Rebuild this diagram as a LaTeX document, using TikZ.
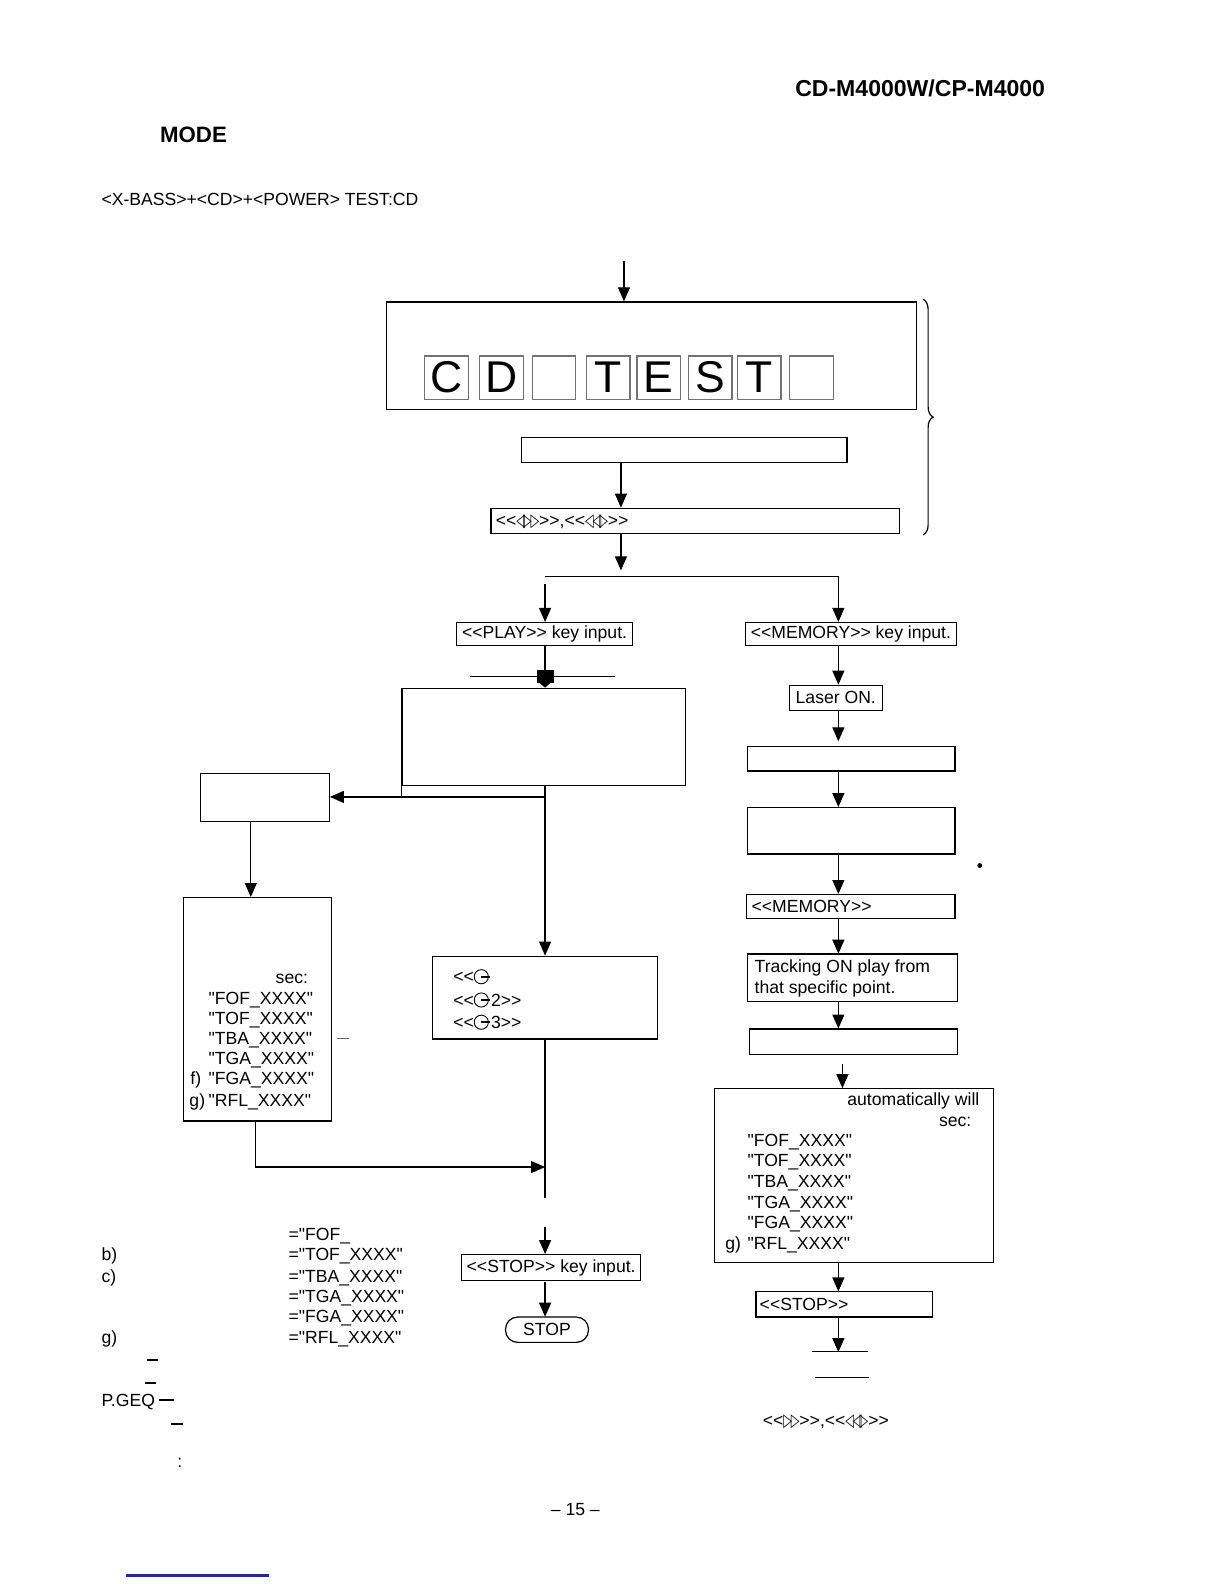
\documentclass[tikz,border=0pt]{standalone}
\usepackage{fontspec}
\usepackage{graphicx}
\setmainfont{Liberation Sans}[Ligatures=TeXOff]
\newfontfamily\dv{DejaVu Sans}
\usetikzlibrary{arrows.meta,decorations.pathreplacing}
\definecolor{pageblue}{RGB}{40,40,150}
\newcommand\trsym[1]{\scalebox{0.62}[1.0]{\dv\fontsize{9}{9}\selectfont #1}}
\newcommand\triA{<<\trsym{◁}\kern-1pt\trsym{▷}\kern-0.6pt\trsym{▷}>>,<<\trsym{◁}\kern-0.6pt\trsym{◁}\kern-1pt\trsym{▷}>>}
\newcommand\triB{<<\trsym{▷}\kern-0.6pt\trsym{▷}>>,<<\trsym{◁}\kern-0.6pt\trsym{◁}\kern-1pt\trsym{▷}>>}
\begin{document}
\begin{tikzpicture}[x=0.5pt,y=-0.5pt,scale=1.0111,transform shape,
  every node/.style={font=\fontsize{8.7}{10.4}\selectfont, inner sep=0pt},
  box/.style={draw, line width=0.6pt, anchor=north west, inner sep=0pt},
  cbox/.style={draw=black!55, line width=0.6pt, minimum width=21.5pt, minimum height=21.5pt, font=\fontsize{22}{22}\selectfont, inner sep=0pt},
  arr/.style={line width=0.6pt, -{Triangle[width=6pt,length=7pt]}},
  ln/.style={line width=0.6pt},
  txt/.style={anchor=base west},
  txe/.style={anchor=base east},
  shortbar/.style={line width=1pt},
  disc/.style={line width=0.45pt},
  discbar/.style={line width=0.9pt}]
\fill[white] (0,0) rectangle (1210.57,1566.61);
\useasboundingbox (0,0) rectangle (1210.57,1566.61);

% header
\node[txe,font=\bfseries\fontsize{11.4}{13}\selectfont] (hdr) at (1034,95) {CD-M4000W/CP-M4000};
\node[txt,font=\bfseries\fontsize{11}{13}\selectfont] (mode) at (158,141) {MODE};
\node[txt] (keys) at (100,203) {<X-BASS>+<CD>+<POWER> TEST:CD};

% column coordinates
\coordinate (top) at (617,258);
\coordinate (colA) at (614,0);
\coordinate (colL) at (539,0);
\coordinate (colR) at (829,0);
\coordinate (colE) at (248,0);
\coordinate (colG) at (253,0);

% display box
\node[box,minimum width=262pt,minimum height=53pt] (boxA) at (382,298) {};
\node[cbox] (c1) at (441.5,373.5) {C};
\node[cbox] (c2) at (496,373.5) {D};
\node[cbox] (c3) at (548,373.5) {};
\node[cbox] (c4) at (601.5,373.5) {T};
\node[cbox] (c5) at (651.5,373.5) {E};
\node[cbox] (c6) at (702.5,373.5) {S};
\node[cbox] (c7) at (751,373.5) {T};
\node[cbox] (c8) at (802.5,373.5) {};
\draw[arr] (top) -- (top |- boxA.north);

\node[box,minimum width=161pt,minimum height=12.5pt] (boxB) at (515,432) {};
\node[box,minimum width=202pt,minimum height=12.5pt] (boxC) at (485,502) {};
\node[txt] (tC) at (490,521) {\triA};
\draw[arr] (boxB.south -| colA) -- (boxC.north -| colA);
\draw[ln, decorate, decoration={brace, amplitude=5pt}] (913,296) -- (913,529);

% split
\coordinate (jA) at (614,564);
\coordinate (sL) at (539,570);
\coordinate (sR) at (829,570);
\draw[arr] (boxC.south -| colA) -- (jA);
\draw[ln] (sL) -- (sR);

% left branch
\node[box,minimum width=87pt,minimum height=11.5pt] (play) at (451,615) {<<PLAY>> key input.};
\draw[arr] ([yshift=-3.5pt]sL) -- (play.north -| colL);
\coordinate (blob) at (539,664);
\draw[ln] (play.south -| colL) -- (blob);
\fill (531,663) rectangle (548,675);
\fill (533,675) -- (545,675) -- (539,680) -- cycle;
\draw[ln] (465,669) -- (608,669);

\node[box,minimum width=140pt,minimum height=48pt] (boxD) at (397,680) {};
\draw[ln] (boxD.south west) -- ++(0,11);
\node[box,minimum width=63.5pt,minimum height=24pt] (boxE) at (198,764) {};
\node[box,minimum width=73pt,minimum height=110.5pt] (boxG) at (181,887) {};
\node[box,minimum width=111.5pt,minimum height=41pt] (boxF) at (427,945) {};
\coordinate (jD) at (539,788);
\draw[arr] (boxD.south -| colL) -- (boxF.north -| colL);
\draw[arr] (jD) -- (boxE.east |- jD);
\draw[arr] (boxE.south -| colE) -- (boxG.north -| colE);

\node[txe] (gsec) at (305,973) {sec:};
\node[txt] (g1) at (206,993) {"FOF\_XXXX"};
\node[txt] (g2) at (206,1013) {"TOF\_XXXX"};
\node[txt] (g3) at (206,1033) {"TBA\_XXXX"};
\node[txt] (g4) at (206,1053) {"TGA\_XXXX"};
\node[txt] (g5) at (206,1073) {"FGA\_XXXX"};
\node[txt] (g6) at (206,1094) {"RFL\_XXXX"};
\node[txt] (gf) at (188,1073) {f)};
\node[txt] (gg) at (187,1094) {g)};
\draw[line width=0.5pt, black!60] (333,1027) -- (345,1027);

% disc symbol lines
\node[txt] (f1) at (448,972) {<<\hspace{9pt}};
\node[txt] (f2) at (448,995) {<<\hspace{8.5pt}2>>};
\node[txt] (f3) at (448,1017) {<<\hspace{8.5pt}3>>};
\foreach \yy in {966,989,1011} {
  \draw[disc] (476,\yy) circle[radius=3.5pt];
  \draw[discbar] (476,\yy) -- (485,\yy);
}

\coordinate (jG) at (539,1154);
\coordinate (jF) at (539,1185);
\coordinate (jS) at (539,1213);
\draw[arr] (boxG.south -| colG) -- (colG |- jG) -- (jG);
\draw[ln] (boxF.south -| colL) -- (jF);

\node[box,minimum width=88.5pt,minimum height=13pt] (stopk) at (456,1240) {<<STOP>> key input.};
\draw[arr] (jS) -- (stopk.north -| colL);
\node[draw, line width=0.6pt, rounded corners=6pt, minimum width=41pt, minimum height=12.5pt, anchor=north] (stopt) at (541,1302) {STOP};
\draw[arr] (stopk.south -| colL) -- (stopt.north -| colL);

% left bottom notes
\node[txt] (n1) at (285,1227) {="FOF\_};
\node[txt] (n2) at (285,1247) {="TOF\_XXXX"};
\node[txt] (n3) at (285,1268) {="TBA\_XXXX"};
\node[txt] (n4) at (285,1288) {="TGA\_XXXX"};
\node[txt] (n5) at (285,1308) {="FGA\_XXXX"};
\node[txt] (n6) at (285,1329) {="RFL\_XXXX"};
\node[txt] (lb) at (100,1247) {b)};
\node[txt] (lc) at (100,1268) {c)};
\node[txt] (lg) at (100,1329) {g)};
\draw[shortbar] (145,1345) -- (156,1345);
\draw[shortbar] (143,1368) -- (154,1368);
\node[txt] (pgeq) at (100,1391) {P.GEQ};
\draw[shortbar] (157,1385) -- (172,1385);
\draw[shortbar] (169,1408) -- (181,1408);
\node[txt] (colon) at (175,1451) {:};

% right branch
\node[box,minimum width=104pt,minimum height=11.5pt] (mem) at (737,615) {<<MEMORY>> key input.};
\draw[arr] (sR) -- (mem.north -| colR);
\node[box,minimum width=46pt,minimum height=12.5pt] (laser) at (780,677) {Laser ON.};
\draw[arr] (mem.south -| colR) -- (laser.north -| colR);
\node[box,minimum width=102.5pt,minimum height=12pt] (boxH) at (739,738) {};
\draw[arr] (laser.south -| colR) -- ([yshift=2.5pt]boxH.north -| colR);
\node[box,minimum width=102.5pt,minimum height=23pt] (boxI) at (739,798) {};
\draw[arr] (boxH.south -| colR) -- (boxI.north -| colR);
\fill (969,856) circle[radius=1.2pt];
\node[box,minimum width=103pt,minimum height=12pt] (boxJ) at (738,884) {};
\node[txt] (tJ) at (743,902) {<<MEMORY>>};
\draw[arr] (boxI.south -| colR) -- (boxJ.north -| colR);
\node[box,minimum width=103.5pt,minimum height=23.5pt] (boxK) at (739,943) {};
\node[txt] (tK1) at (746,962) {Tracking ON play from};
\node[txt] (tK2) at (746,983) {that specific point.};
\draw[arr] (boxJ.south -| colR) -- (boxK.north -| colR);
\node[box,minimum width=102.5pt,minimum height=12.5pt] (boxL) at (741,1017) {};
\draw[arr] (boxK.south -| colR) -- (boxL.north -| colR);
\node[box,minimum width=138pt,minimum height=86pt] (boxM) at (706,1076) {};
\coordinate (jL) at (833,1052);
\draw[arr] (jL) -- (boxM.north -| jL);
\node[txe] (m0) at (969,1093) {automatically will};
\node[txe] (m00) at (961,1114) {sec:};
\node[txt] (m1) at (739,1134) {"FOF\_XXXX"};
\node[txt] (m2) at (739,1154) {"TOF\_XXXX"};
\node[txt] (m3) at (739,1174) {"TBA\_XXXX"};
\node[txt] (m4) at (739,1195) {"TGA\_XXXX"};
\node[txt] (m5) at (739,1215) {"FGA\_XXXX"};
\node[txt] (m6) at (739,1236) {"RFL\_XXXX"};
\node[txt] (mg) at (717,1236) {g)};
\node[box,minimum width=87.5pt,minimum height=12.5pt] (boxN) at (747,1277) {};
\node[txt] (tN) at (751,1296) {<<STOP>>};
\draw[arr] (boxM.south -| colR) -- (boxN.north -| colR);
\coordinate (jN) at (829,1337);
\draw[arr] (boxN.south -| colR) -- (jN);
\draw[ln] (803,1337) -- (858,1337);
\draw[ln] (806,1362) -- (859,1362);
\node[txt] (tri2) at (754,1411) {\triB};

% footer
\node[anchor=base] (pg) at (569,1499) {– 15 –};
\draw[line width=1.2pt, pageblue] (125,1558) -- (266,1558);
\end{tikzpicture}
\end{document}
